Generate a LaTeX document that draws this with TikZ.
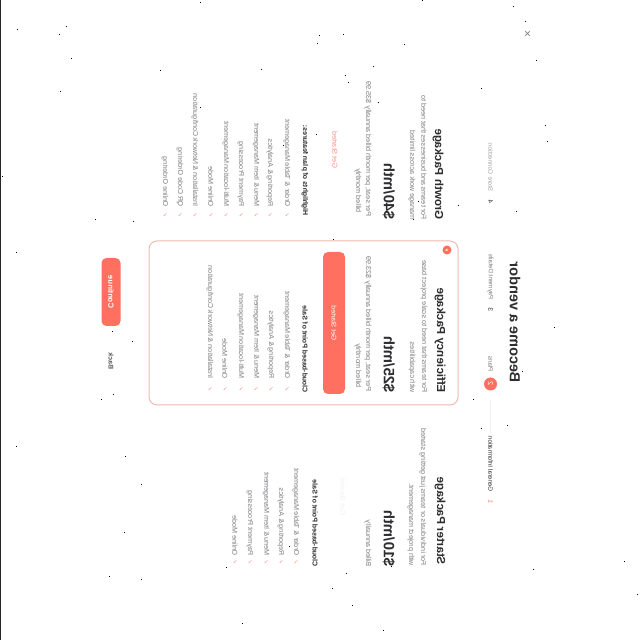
\documentclass[tikz,border=0pt]{standalone}
\usepackage{fontspec}
\setmainfont{Liberation Sans}
\newfontfamily\symbfont{DejaVu Sans}
\usepackage{tikz}
\definecolor{coral}{RGB}{255,112,97}
\definecolor{softcoral}{RGB}{245,150,138}
\definecolor{cardline}{RGB}{240,185,178}
\definecolor{inkdark}{RGB}{45,45,48}
\definecolor{inkgrey}{RGB}{125,125,130}
\tikzset{
  txt/.style={inner sep=0pt,anchor=west},
  titlelab/.style={txt,font=\fontsize{14.5}{16}\selectfont\bfseries,text=inkdark},
  steplab/.style={txt,font=\fontsize{6.3}{8}\selectfont,text=inkdark},
  stepnum/.style={inner sep=0pt,font=\fontsize{6.5}{8}\selectfont,text=inkdark},
  packlab/.style={txt,font=\fontsize{11.6}{14}\selectfont\bfseries,text=inkdark},
  desclab/.style={txt,font=\fontsize{7.2}{8}\selectfont,text=inkgrey},
  pricelab/.style={txt,font=\fontsize{15}{18}\selectfont\bfseries,text=inkdark},
  boldlab/.style={txt,font=\fontsize{7}{8}\selectfont\bfseries,text=inkdark},
  featlab/.style={txt,font=\fontsize{7.1}{8}\selectfont,text=inkgrey},
  tick/.style={inner sep=0pt,font=\symbfont\fontsize{6}{6}\selectfont,text=softcoral},
  actionbox/.style={draw=none,fill=coral,rounded corners=5pt,inner sep=0pt,text=white},
  stepline/.style={draw=black!6,line width=0.8pt}
}

\begin{document}
\begin{tikzpicture}[x=1pt,y=1pt]
  \useasboundingbox (0,0) rectangle (640,640);
  \fill[white] (0,0) rectangle (640,640);
  \fill[black!85] (0,0) rectangle (1,640);
  % specks
  \foreach \px/\py in {422/1,513/7,525/22,404/45,536/61,481/89,545/126,547/142,458/206,516/212,408/257,418/202,413/220,
    554/328,522/372,404/387,473/400,507/426,481/429,533/570,373/67,345/76,348/83,378/103,316/135,283/146,333/240,395/252,
    160/71,261/70,200/108,196/247,187/254,219/258,409/256,303/281,281/318,377/323,314/333,394/352,224/290,162/336,176/384,
    289/547,226/568,346/574,332/589,391/567,112/332,132/342,17/30,66/27,59/35,71/59,60/92,2/177,95/220,133/222,16/253,
    113/395,101/400,16/447,125/457,141/485,124/533,109/577,141/580,200/3,319/36,343/35,317/44,624/562,637/595,352/606,242/624,383/631}
    \fill[black] (\px-0.5,640-\py-0.5) rectangle ++(1,1);
  \begin{scope}[cm={0,1,1,0,(0,0)},transform shape]
    % header
    \node[titlelab] (title) at (257,515) {Become a vendor};
    \node[inner sep=0pt,font=\fontsize{12}{12}\selectfont,text=inkgrey] (closex) at (606,527) {×};
    % steps
    \node[stepnum,text=coral] (step1) at (138,490.5) {1};
    \node[steplab] (steplab1) at (148,490.5) {General Information};
    \node[circle,fill=coral,minimum size=13pt,inner sep=0pt,text=white,font=\fontsize{7}{8}\selectfont] (step2) at (256,490.5) {2};
    \node[steplab,text=inkgrey] (steplab2) at (268,490.5) {Plans};
    \node[stepnum] (step3) at (330,490.5) {3};
    \node[steplab,text=inkgrey] (steplab3) at (340,490.5) {Payment Details};
    \node[stepnum] (step4) at (438,490.5) {4};
    \node[steplab,text=inkgrey!70] (steplab4) at (448,490.5) {Store Connection};
    \draw[stepline,shorten <=3pt,shorten >=9pt] (steplab1) -- (step2);
    % starter column
    \node[packlab] (starthead) at (75,440) {Starter Package};
    \node[desclab] (startdesc1) at (74,423) {For individuals or teams just getting started};
    \node[desclab] (startdesc2) at (74,411) {with project management.};
    \node[pricelab] (startprice) at (73,389) {\$10/mth};
    \node[desclab] (startbill) at (73,368) {Billed annually};
    \node[desclab,anchor=center,text=black!5] (startbtn) at (143,343) {Get Started};
    \node[boldlab] (startbold) at (73,315) {Cloud-based Point of Sale};
    \node[tick] (sc1) at (78,296) {✓}; \node[featlab] (sf1) at (84,296) {Order \& Table Management};
    \node[tick] (sc2) at (78,281) {✓}; \node[featlab] (sf2) at (84,281) {Reporting \& Analytics};
    \node[tick] (sc3) at (78,266) {✓}; \node[featlab] (sf3) at (84,266) {Menu \& Item Management};
    \node[tick] (sc4) at (78,250) {✓}; \node[featlab] (sf4) at (84,250) {Payment Processing};
    \node[tick] (sc5) at (78,235) {✓}; \node[featlab] (sf5) at (84,235) {Online Mode};
    % efficiency column
    \node[draw=cardline,line width=1pt,rounded corners=8pt,fill=white,minimum width=164pt,minimum height=309pt,inner sep=0pt] (effcard) at (317,303.5) {};
    \node[circle,fill=coral,minimum size=9pt,inner sep=0pt,text=white!85!coral,font=\symbfont\fontsize{4.5}{5}\selectfont] (effbadge) at (390,447) {★};
    \node[packlab] (effhead) at (247,440) {Efficiency Package};
    \node[desclab] (effdesc1) at (247,424) {For teams that need to scale project base};
    \node[desclab] (effdesc2) at (247,412) {with capabilities};
    \node[pricelab] (effprice) at (247,389) {\$25/mth};
    \node[desclab] (effbill1) at (248,368) {Per seat, per month billed annually \$23.99};
    \node[desclab] (effbill2) at (252,358) {billed monthly};
    \node[actionbox,minimum width=142pt,minimum height=22pt,font=\fontsize{6.8}{8}\selectfont] (effbtn) at (317,334) {Get Started};
    \node[boldlab] (effbold) at (247,305) {Cloud-based Point of Sale};
    \node[tick] (ec1) at (251,287) {✓}; \node[featlab] (ef1) at (261,287) {Order \& Table Management};
    \node[tick] (ec2) at (251,271) {✓}; \node[featlab] (ef2) at (261,271) {Reporting \& Analytics};
    \node[tick] (ec3) at (251,256) {✓}; \node[featlab] (ef3) at (261,256) {Menu \& Item Management};
    \node[tick] (ec4) at (251,241) {✓}; \node[featlab] (ef4) at (261,241) {Multi-location Management};
    \node[tick] (ec5) at (251,225) {✓}; \node[featlab] (ef5) at (261,225) {Online Mode};
    \node[tick] (ec6) at (251,210) {✓}; \node[featlab] (ef6) at (261,210) {Installation \& Network Configuration};
    % growth column
    \node[packlab] (growhead) at (420,438) {Growth Package};
    \node[desclab] (growdesc1) at (420,424) {For teams and businesses that need to};
    \node[desclab] (growdesc2) at (420,412) {manage work across limited};
    \node[pricelab] (growprice) at (420,389) {\$40/mth};
    \node[desclab] (growbill1) at (423,368) {Per seat, per month billed annually \$35.99};
    \node[desclab] (growbill2) at (427,358) {billed monthly};
    \node[desclab,anchor=center,text=softcoral] (growbtn) at (490,335) {Get Started};
    \node[boldlab] (growbold) at (424,305) {Highlights of plan features:};
    \node[tick] (gc1) at (425,287) {✓}; \node[featlab] (gf1) at (433,287) {Order \& Table Management};
    \node[tick] (gc2) at (425,270) {✓}; \node[featlab] (gf2) at (433,270) {Reporting \& Analytics};
    \node[tick] (gc3) at (425,256) {✓}; \node[featlab] (gf3) at (433,256) {Menu \& Item Management};
    \node[tick] (gc4) at (425,241) {✓}; \node[featlab] (gf4) at (433,241) {Payment Processing};
    \node[tick] (gc5) at (425,226) {✓}; \node[featlab] (gf5) at (433,226) {Multi-location Management};
    \node[tick] (gc6) at (425,211) {✓}; \node[featlab] (gf6) at (433,211) {Online Mode};
    \node[tick] (gc7) at (425,195) {✓}; \node[featlab] (gf7) at (433,195) {Installation \& Network Configuration};
    \node[tick] (gc8) at (425,180) {✓}; \node[featlab] (gf8) at (433,180) {QR Code Ordering};
    \node[tick] (gc9) at (425,165) {✓}; \node[featlab] (gf9) at (433,165) {Online Ordering};
    % footer
    \node[actionbox,minimum width=68pt,minimum height=19pt,font=\fontsize{7.5}{8}\selectfont\bfseries] (contbtn) at (348,111) {Continue};
    \node[inner sep=0pt,font=\fontsize{6.8}{8}\selectfont\bfseries,text=inkdark!80] (backlab) at (279,111) {Back};
  \end{scope}
\end{tikzpicture}
\end{document}
